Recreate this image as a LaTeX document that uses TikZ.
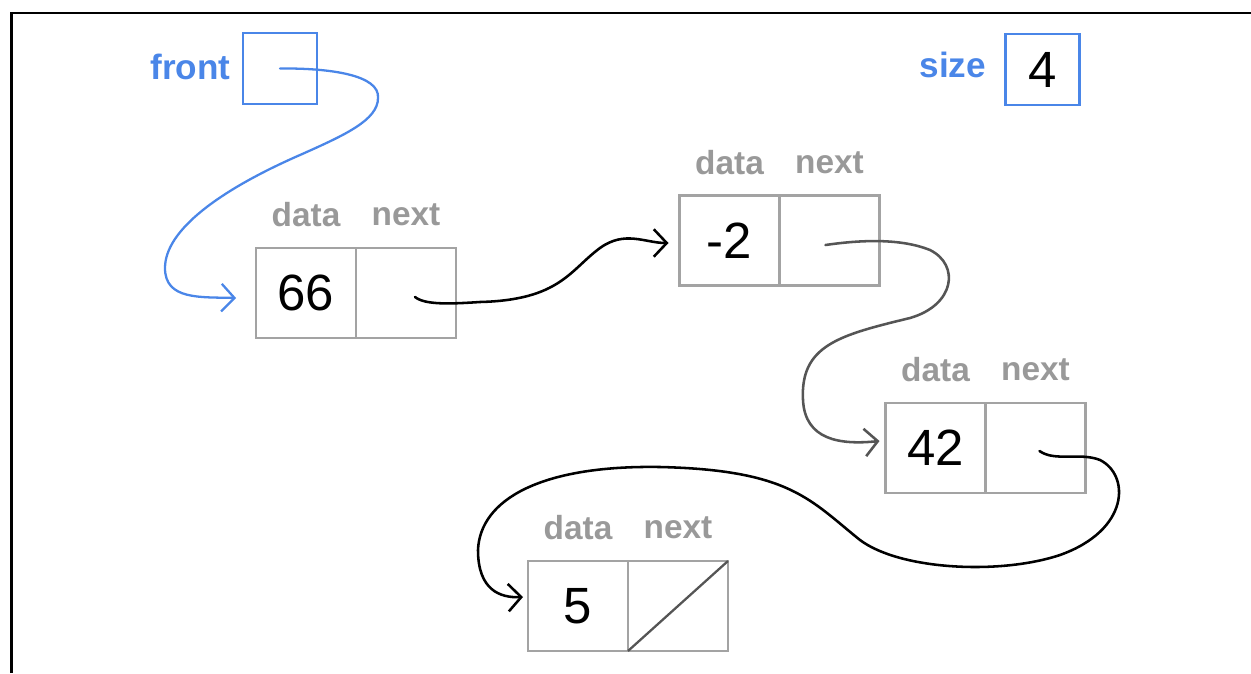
\documentclass[tikz,border=0pt]{standalone}
\usepackage{fontspec}
\setmainfont{Liberation Sans}
\usetikzlibrary{positioning,arrows.meta}
\definecolor{ptrblue}{HTML}{4A86E8}
\definecolor{boxgray}{HTML}{A3A3A3}
\definecolor{lblgray}{HTML}{999999}
\definecolor{linkgray}{HTML}{555555}

\begin{document}
\begin{tikzpicture}[x=0.02cm,y=-0.02cm,
  cell/.style={draw=boxgray,line width=1.5pt,minimum width=2cm,minimum height=1.8cm,inner sep=0pt,outer sep=0pt,font=\fontsize{29}{29}\selectfont},
  fieldlbl/.style={text=lblgray,inner sep=0pt,font=\bfseries\fontsize{19}{19}\selectfont},
  varbox/.style={draw=ptrblue,line width=1.4pt,minimum width=1.48cm,minimum height=1.42cm,inner sep=0pt,font=\fontsize{29}{29}\selectfont},
  varlbl/.style={text=ptrblue,inner sep=0pt,font=\bfseries\fontsize{20}{20}\selectfont},
  link/.style={line width=1.45pt,line cap=round,-{Straight Barb[length=0.26cm,width=0.55cm]}}]

\useasboundingbox (0,0) rectangle (1251,673);
\draw[line width=1.5pt] (11.5,673) -- (11.5,13) -- (1251,13);

% front and size
\node[varbox] (front) at (280,68.5) {};
\node[varlbl,anchor=base east] (frontlbl) at ([xshift=-0.22cm,yshift=-0.21cm]front.west) {front};
\node[varbox] (sizebox) at (1042.5,69.5) {4};
\node[varlbl,anchor=base east] (sizelbl) at ([xshift=-0.36cm,yshift=-0.15cm]sizebox.west) {size};

% list nodes
\node[cell] (d1) at (306,293) {66};
\node[cell,right=0pt of d1] (n1) {};
\node[cell] (d2) at (729.5,240.5) {-2};
\node[cell,right=0pt of d2] (n2) {};
\node[cell] (d3) at (935.5,448) {42};
\node[cell,right=0pt of d3] (n3) {};
\node[cell] (d4) at (578,606) {5};
\node[cell,right=0pt of d4] (n4) {};
\draw[linkgray,line width=1.3pt] (n4.south west) -- (n4.north east);

\foreach \c in {1,2,3,4}{
  \node[fieldlbl] (dl\c) at ([yshift=0.66cm]d\c.north) {data};
  \node[fieldlbl] (nl\c) at ([yshift=0.66cm]n\c.north) {next};
}

% pointers
\draw[link,ptrblue,line width=1.3pt] (front.center) .. controls (330,68) and (380,75) .. (378,98)
  .. controls (378,120) and (345,135) .. (300,155) .. controls (220,190) and (165,230) .. (165,268)
  .. controls (165,300) and (200,297) .. ([xshift=-0.4cm,yshift=-0.1cm]d1.west);
\draw[link] ([xshift=0.18cm,yshift=-0.08cm]n1.center) .. controls (425,305) and (450,304) .. (480,302)
  .. controls (560,300) and (570,270) .. (600,248) .. controls (625,230) and (645,243) .. ([xshift=-0.22cm,yshift=-0.05cm]d2.west);
\draw[link,linkgray] ([xshift=-0.08cm,yshift=-0.09cm]n2.center) .. controls (860,240) and (900,238) .. (930,250)
  .. controls (960,265) and (955,305) .. (910,318) .. controls (840,335) and (800,345) .. (803,400)
  .. controls (805,440) and (840,445) .. ([xshift=-0.12cm,yshift=0.14cm]d3.west);
\draw[link] ([xshift=0.08cm,yshift=-0.06cm]n3.center) .. controls (1055,462) and (1080,452) .. (1100,460)
  .. controls (1130,475) and (1130,530) .. (1060,555) .. controls (1000,575) and (900,570) .. (860,540)
  .. controls (810,500) and (790,470) .. (660,467) .. controls (540,465) and (480,500) .. (478,550)
  .. controls (478,590) and (500,598) .. ([xshift=-0.1cm,yshift=0.18cm]d4.west);
\end{tikzpicture}
\end{document}
